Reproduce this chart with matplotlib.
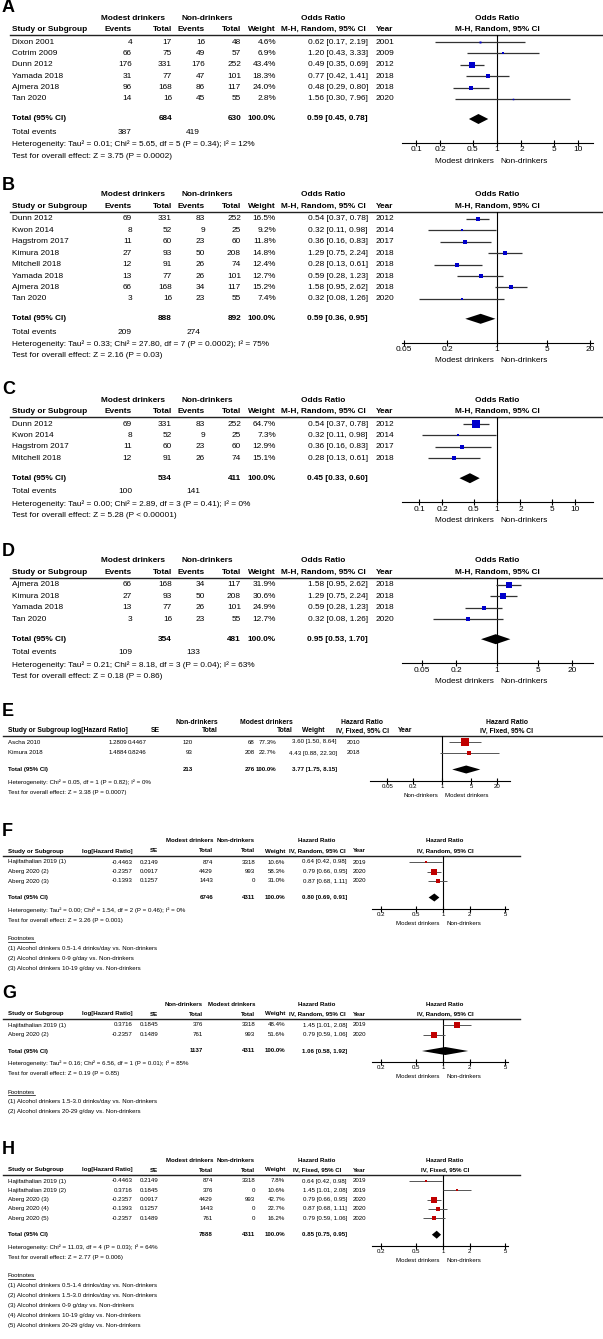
import numpy as np
import matplotlib
matplotlib.use('Agg')
import matplotlib.pyplot as plt
from matplotlib import font_manager
from matplotlib.ticker import NullLocator

# ---------------- data ----------------
# A: all studies, odds ratio
a_study = ['Dixon 2001', 'Cotrim 2009', 'Dunn 2012', 'Yamada 2018', 'Ajmera 2018', 'Tan 2020']
a_ev1 = [4, 66, 176, 31, 96, 14]
a_tot1 = [17, 75, 331, 77, 168, 16]
a_ev2 = [16, 49, 176, 47, 86, 45]
a_tot2 = [48, 57, 252, 101, 117, 55]
a_weight = [4.6, 6.9, 43.4, 18.3, 24.0, 2.8]
a_or = [0.62, 1.20, 0.49, 0.77, 0.48, 1.56]
a_lo = [0.17, 0.43, 0.35, 0.42, 0.29, 0.30]
a_hi = [2.19, 3.33, 0.69, 1.41, 0.80, 7.96]
a_year = [2001, 2009, 2012, 2018, 2018, 2020]
a_sum_tot = [684, 630]
a_sum_ev = [387, 419]
a_pooled = [0.59, 0.45, 0.78]
a_het = 'Heterogeneity: Tau² = 0.01; Chi² = 5.65, df = 5 (P = 0.34); I² = 12%'
a_test = 'Test for overall effect: Z = 3.75 (P = 0.0002)'

# B
b_study = ['Dunn 2012', 'Kwon 2014', 'Hagstrom 2017', 'Kimura 2018', 'Mitchell 2018',
           'Yamada 2018', 'Ajmera 2018', 'Tan 2020']
b_ev1 = [69, 8, 11, 27, 12, 13, 66, 3]
b_tot1 = [331, 52, 60, 93, 91, 77, 168, 16]
b_ev2 = [83, 9, 23, 50, 26, 26, 34, 23]
b_tot2 = [252, 25, 60, 208, 74, 101, 117, 55]
b_weight = [16.5, 9.2, 11.8, 14.8, 12.4, 12.7, 15.2, 7.4]
b_or = [0.54, 0.32, 0.36, 1.29, 0.28, 0.59, 1.58, 0.32]
b_lo = [0.37, 0.11, 0.16, 0.75, 0.13, 0.28, 0.95, 0.08]
b_hi = [0.78, 0.98, 0.83, 2.24, 0.61, 1.23, 2.62, 1.26]
b_year = [2012, 2014, 2017, 2018, 2018, 2018, 2018, 2020]
b_sum_tot = [888, 892]
b_sum_ev = [209, 274]
b_pooled = [0.59, 0.36, 0.95]
b_het = 'Heterogeneity: Tau² = 0.33; Chi² = 27.80, df = 7 (P = 0.0002); I² = 75%'
b_test = 'Test for overall effect: Z = 2.16 (P = 0.03)'

# C
c_study = ['Dunn 2012', 'Kwon 2014', 'Hagstrom 2017', 'Mitchell 2018']
c_ev1 = [69, 8, 11, 12]
c_tot1 = [331, 52, 60, 91]
c_ev2 = [83, 9, 23, 26]
c_tot2 = [252, 25, 60, 74]
c_weight = [64.7, 7.3, 12.9, 15.1]
c_or = [0.54, 0.32, 0.36, 0.28]
c_lo = [0.37, 0.11, 0.16, 0.13]
c_hi = [0.78, 0.98, 0.83, 0.61]
c_year = [2012, 2014, 2017, 2018]
c_sum_tot = [534, 411]
c_sum_ev = [100, 141]
c_pooled = [0.45, 0.33, 0.60]
c_het = 'Heterogeneity: Tau² = 0.00; Chi² = 2.89, df = 3 (P = 0.41); I² = 0%'
c_test = 'Test for overall effect: Z = 5.28 (P < 0.00001)'

# D
d_study = ['Ajmera 2018', 'Kimura 2018', 'Yamada 2018', 'Tan 2020']
d_ev1 = [66, 27, 13, 3]
d_tot1 = [168, 93, 77, 16]
d_ev2 = [34, 50, 26, 23]
d_tot2 = [117, 208, 101, 55]
d_weight = [31.9, 30.6, 24.9, 12.7]
d_or = [1.58, 1.29, 0.59, 0.32]
d_lo = [0.95, 0.75, 0.28, 0.08]
d_hi = [2.62, 2.24, 1.23, 1.26]
d_year = [2018, 2018, 2018, 2020]
d_sum_tot = [354, 481]
d_sum_ev = [109, 133]
d_pooled = [0.95, 0.53, 1.70]
d_het = 'Heterogeneity: Tau² = 0.21; Chi² = 8.18, df = 3 (P = 0.04); I² = 63%'
d_test = 'Test for overall effect: Z = 0.18 (P = 0.86)'

# E: hazard ratio
e_study = ['Ascha 2010', 'Kimura 2018']
e_loghr = [1.2809, 1.4884]
e_se = [0.4467, 0.8246]
e_tot1 = [120, 93]
e_tot2 = [68, 208]
e_weight = [77.3, 22.7]
e_hr = [3.60, 4.43]
e_lo = [1.50, 0.88]
e_hi = [8.64, 22.30]
e_year = [2010, 2018]
e_sum_tot = [213, 276]
e_pooled = [3.77, 1.75, 8.15]
e_het = 'Heterogeneity: Chi² = 0.05, df = 1 (P = 0.82); I² = 0%'
e_test = 'Test for overall effect: Z = 3.38 (P = 0.0007)'

# F
f_study = ['Hajifathalian 2019 (1)', 'Aberg 2020 (2)', 'Aberg 2020 (3)']
f_loghr = [-0.4463, -0.2357, -0.1393]
f_se = [0.2149, 0.0917, 0.1257]
f_tot1 = [874, 4429, 1443]
f_tot2 = [3318, 993, 0]
f_weight = [10.6, 58.3, 31.0]
f_hr = [0.64, 0.79, 0.87]
f_lo = [0.42, 0.66, 0.68]
f_hi = [0.98, 0.95, 1.11]
f_year = [2019, 2020, 2020]
f_sum_tot = [6746, 4311]
f_pooled = [0.80, 0.69, 0.91]
f_het = 'Heterogeneity: Tau² = 0.00; Chi² = 1.54, df = 2 (P = 0.46); I² = 0%'
f_test = 'Test for overall effect: Z = 3.26 (P = 0.001)'
f_notes = ['(1) Alcohol drinkers 0.5-1.4 drinks/day vs. Non-drinkers',
           '(2) Alcohol drinkers 0-9 g/day vs. Non-drinkers',
           '(3) Alcohol drinkers 10-19 g/day vs. Non-drinkers']

# G
g_study = ['Hajifathalian 2019 (1)', 'Aberg 2020 (2)']
g_loghr = [0.3716, -0.2357]
g_se = [0.1845, 0.1489]
g_tot1 = [376, 761]
g_tot2 = [3318, 993]
g_weight = [48.4, 51.6]
g_hr = [1.45, 0.79]
g_lo = [1.01, 0.59]
g_hi = [2.08, 1.06]
g_year = [2019, 2020]
g_sum_tot = [1137, 4311]
g_pooled = [1.06, 0.58, 1.92]
g_het = 'Heterogeneity: Tau² = 0.16; Chi² = 6.56, df = 1 (P = 0.01); I² = 85%'
g_test = 'Test for overall effect: Z = 0.19 (P = 0.85)'
g_notes = ['(1) Alcohol drinkers 1.5-3.0 drinks/day vs. Non-drinkers',
           '(2) Alcohol drinkers 20-29 g/day vs. Non-drinkers']

# H
h_study = ['Hajifathalian 2019 (1)', 'Hajifathalian 2019 (2)', 'Aberg 2020 (3)',
           'Aberg 2020 (4)', 'Aberg 2020 (5)']
h_loghr = [-0.4463, 0.3716, -0.2357, -0.1393, -0.2357]
h_se = [0.2149, 0.1845, 0.0917, 0.1257, 0.1489]
h_tot1 = [874, 376, 4429, 1443, 761]
h_tot2 = [3318, 0, 993, 0, 0]
h_weight = [7.8, 10.6, 42.7, 22.7, 16.2]
h_hr = [0.64, 1.45, 0.79, 0.87, 0.79]
h_lo = [0.42, 1.01, 0.66, 0.68, 0.59]
h_hi = [0.98, 2.08, 0.95, 1.11, 1.06]
h_year = [2019, 2019, 2020, 2020, 2020]
h_sum_tot = [7888, 4311]
h_pooled = [0.85, 0.75, 0.95]
h_het = 'Heterogeneity: Chi² = 11.03, df = 4 (P = 0.03); I² = 64%'
h_test = 'Test for overall effect: Z = 2.77 (P = 0.006)'
h_notes = ['(1) Alcohol drinkers 0.5-1.4 drinks/day vs. Non-drinkers',
           '(2) Alcohol drinkers 1.5-3.0 drinks/day vs. Non-drinkers',
           '(3) Alcohol drinkers 0-9 g/day vs. Non-drinkers',
           '(4) Alcohol drinkers 10-19 g/day vs. Non-drinkers',
           '(5) Alcohol drinkers 20-29 g/day vs. Non-drinkers']

# ---------------- style ----------------
names = set(f.name for f in font_manager.fontManager.ttflist)
if 'Liberation Sans Narrow' in names:
    FAM, SC = 'Liberation Sans Narrow', 1.0
else:
    FAM, SC = 'Liberation Sans', 0.84
plt.rcParams['font.family'] = [FAM, 'DejaVu Sans']
FS1 = 7.1 * SC    # panels A-D
FS2 = 5.3 * SC    # panels E-H
BLUE = '#0000CC'
RED = '#C00000'

W, H = 603, 1339
fig = plt.figure(figsize=(W / 100, H / 100), dpi=100)
bg = fig.add_axes([0, 0, 1, 1])
bg.set_xlim(0, W)
bg.set_ylim(H, 0)
bg.axis('off')


def txt(x, y, s, ha='left', bold=False, fs=FS1, **kw):
    return bg.text(x, y, s, ha=ha, va='center', fontsize=fs,
                   fontweight='bold' if bold else 'normal', **kw)


def ci(e, l, h):
    return '%.2f [%.2f, %.2f]' % (e, l, h)


def forest(x0, x1, ytop, yaxis, center, ppd, ticks, ys, est, lo, hi, w, color, k,
           pooled, ytot, dh, labs, fs, lab_dy, lw_ci, ci_col):
    ax = fig.add_axes([x0 / W, 1 - yaxis / H, (x1 - x0) / W, (yaxis - ytop) / H])
    ax.set_xscale('log')
    ax.set_xlim(10 ** ((x0 - center) / ppd), 10 ** ((x1 - center) / ppd))
    ax.set_ylim(yaxis, ytop)
    ax.patch.set_visible(False)
    for s in ['top', 'left', 'right']:
        ax.spines[s].set_visible(False)
    ax.spines['bottom'].set_linewidth(0.8)
    ax.set_xticks(ticks)
    ax.set_xticklabels(['%g' % t for t in ticks])
    ax.xaxis.set_minor_locator(NullLocator())
    ax.tick_params(axis='x', direction='inout', length=4, width=0.8, pad=0.5, labelsize=fs)
    ax.set_yticks([])
    ax.axvline(1, color='k', lw=0.8)
    ax.hlines(ys, lo, hi, color=ci_col, lw=lw_ci)
    for yi, e, wi in zip(ys, est, w):
        ax.plot(e, yi, 's', ms=k * np.sqrt(wi) * 0.72, color=color, mew=0, clip_on=False)
    e, l, h = pooled
    ax.fill([l, e, h, e], [ytot, ytot - dh, ytot, ytot + dh], color='k', lw=0)
    ax.annotate(labs[0], xy=(1, 0), xycoords=('data', 'axes fraction'),
                xytext=(-2.5, -lab_dy), textcoords='offset points',
                ha='right', va='center', fontsize=fs)
    ax.annotate(labs[1], xy=(1, 0), xycoords=('data', 'axes fraction'),
                xytext=(2.5, -lab_dy), textcoords='offset points',
                ha='left', va='center', fontsize=fs)
    return ax


def or_panel(lab, h1, study, ev1, tot1, ev2, tot2, weight, est, lo, hi, year,
             sum_tot, sum_ev, pooled, het, test, ticks, ppd):
    fs = FS1
    txt(2, h1 - 10, lab, bold=True, fs=13, family='Liberation Sans')
    for x, s in [(133, 'Modest drinkers'), (207, 'Non-drinkers'),
                 (323, 'Odds Ratio'), (497, 'Odds Ratio')]:
        txt(x, h1, s, 'center', True, fs)
    h2 = h1 + 11.5
    txt(12, h2, 'Study or Subgroup', 'left', True, fs)
    for x, s in [(132, 'Events'), (172, 'Total'), (205, 'Events'), (241, 'Total'), (276, 'Weight')]:
        txt(x, h2, s, 'right', True, fs)
    txt(323, h2, 'M-H, Random, 95% CI', 'center', True, fs)
    txt(376, h2, 'Year', 'left', True, fs)
    txt(497, h2, 'M-H, Random, 95% CI', 'center', True, fs)
    yl = h2 + 5.5
    bg.plot([10, 603], [yl, yl], color='#222222', lw=1)
    ys = yl + 7 + 11.4 * np.arange(len(study))
    for i, y in enumerate(ys):
        txt(12, y, study[i], fs=fs)
        txt(132, y, str(ev1[i]), 'right', fs=fs)
        txt(172, y, str(tot1[i]), 'right', fs=fs)
        txt(205, y, str(ev2[i]), 'right', fs=fs)
        txt(241, y, str(tot2[i]), 'right', fs=fs)
        txt(276, y, '%.1f%%' % weight[i], 'right', fs=fs)
        txt(368, y, ci(est[i], lo[i], hi[i]), 'right', fs=fs)
        txt(376, y, str(year[i]), 'left', fs=fs)
    yt = ys[-1] + 20
    txt(12, yt, 'Total (95% CI)', 'left', True, fs)
    txt(172, yt, str(sum_tot[0]), 'right', True, fs)
    txt(241, yt, str(sum_tot[1]), 'right', True, fs)
    txt(276, yt, '100.0%', 'right', True, fs)
    txt(368, yt, ci(*pooled), 'right', True, fs)
    txt(12, yt + 13.5, 'Total events', fs=fs)
    txt(132, yt + 13.5, str(sum_ev[0]), 'right', fs=fs)
    txt(200, yt + 13.5, str(sum_ev[1]), 'right', fs=fs)
    txt(12, yt + 25.5, het, fs=fs)
    txt(12, yt + 37, test, fs=fs)
    forest(402, 593, yl, yt + 24, 497, ppd, ticks, ys, est, lo, hi, weight, BLUE, 0.91,
           pooled, yt, 5, ['Modest drinkers', 'Non-drinkers'], fs, 13, 0.9, '#333333')


def hr_panel(lab, h1, study, loghr, se, tot1, tot2, weight, est, lo, hi, year,
             sum_tot, pooled, het, test, notes, hdr1, hdr2, hfs, line_x, cols,
             center, ppd, x0, x1, labs, step, h2gap):
    fs = FS2
    txt(2, h1 - 10, lab, bold=True, fs=13, family='Liberation Sans')
    for x, s, ha in hdr1:
        txt(x, h1, s, ha, True, hfs)
    h2 = h1 + h2gap
    for x, s, ha in hdr2:
        txt(x, h2, s, ha, True, hfs)
    yl = h2 + 5
    bg.plot(line_x, [yl, yl], color='#222222', lw=1)
    ys = yl + 6 + step * np.arange(len(study))
    for i, y in enumerate(ys):
        txt(8, y, study[i], fs=fs)
        txt(cols[0], y, '%.4f' % loghr[i], 'right', fs=fs)
        txt(cols[1], y, '%.4f' % se[i], 'right', fs=fs)
        txt(cols[2], y, str(tot1[i]), 'right', fs=fs)
        txt(cols[3], y, str(tot2[i]), 'right', fs=fs)
        txt(cols[4], y, '%.1f%%' % weight[i], 'right', fs=fs)
        txt(cols[5], y, ci(est[i], lo[i], hi[i]), 'right', fs=fs)
        txt(cols[6], y, str(year[i]), 'left', fs=fs)
    yt = ys[-1] + 16.5
    txt(8, yt, 'Total (95% CI)', 'left', True, fs)
    txt(cols[2], yt, str(sum_tot[0]), 'right', True, fs)
    txt(cols[3], yt, str(sum_tot[1]), 'right', True, fs)
    txt(cols[4], yt, '100.0%', 'right', True, fs)
    txt(cols[5], yt, ci(*pooled), 'right', True, fs)
    txt(8, yt + 12.5, het, fs=fs)
    txt(8, yt + 23, test, fs=fs)
    forest(x0, x1, yl, yt + 11, center, ppd, [0.2, 0.5, 1, 2, 5] if ppd > 60 else [0.05, 0.2, 1, 5, 20],
           ys, est, lo, hi, weight, RED, 0.85, pooled, yt, 4, labs, fs, 10.5, 0.7, '#555555')
    if notes:
        yf = yt + 41
        t = txt(8, yf, 'Footnotes', fs=fs)
        fig.canvas.draw()
        bb = t.get_window_extent().transformed(bg.transData.inverted())
        bg.plot([bb.x0, bb.x1], [yf + 3, yf + 3], color='k', lw=0.5)
        for j, s in enumerate(notes):
            txt(8, yf + 10 + 10 * j, s, fs=fs)


# ---------------- panels A-D ----------------
or_panel('A', 18, a_study, a_ev1, a_tot1, a_ev2, a_tot2, a_weight, a_or, a_lo, a_hi, a_year,
         a_sum_tot, a_sum_ev, a_pooled, a_het, a_test, [0.1, 0.2, 0.5, 1, 2, 5, 10], 81)
or_panel('B', 195, b_study, b_ev1, b_tot1, b_ev2, b_tot2, b_weight, b_or, b_lo, b_hi, b_year,
         b_sum_tot, b_sum_ev, b_pooled, b_het, b_test, [0.05, 0.2, 1, 5, 20], 71.5)
or_panel('C', 400, c_study, c_ev1, c_tot1, c_ev2, c_tot2, c_weight, c_or, c_lo, c_hi, c_year,
         c_sum_tot, c_sum_ev, c_pooled, c_het, c_test, [0.1, 0.2, 0.5, 1, 2, 5, 10], 78)
or_panel('D', 561, d_study, d_ev1, d_tot1, d_ev2, d_tot2, d_weight, d_or, d_lo, d_hi, d_year,
         d_sum_tot, d_sum_ev, d_pooled, d_het, d_test, [0.05, 0.2, 1, 5, 20], 58)

# ---------------- panels E-H ----------------
fgh_cols = [133, 158, 213, 255, 285, 347, 353]
g_cols = [133, 158, 203, 255, 285, 347, 353]


def hdr_fgh(g1, g2, method, t1x=213):
    h1 = [(t1x, g1, 'right'), (255, g2, 'right'), (317, 'Hazard Ratio', 'center'),
          (445, 'Hazard Ratio', 'center')]
    h2 = [(8, 'Study or Subgroup', 'left'), (133, 'log[Hazard Ratio]', 'right'),
          (158, 'SE', 'right'), (t1x, 'Total', 'right'), (255, 'Total', 'right'),
          (285, 'Weight', 'right'), (317, method, 'center'), (353, 'Year', 'left'),
          (445, method, 'center')]
    return h1, h2


e_h1 = [(218, 'Non-drinkers', 'right'), (293, 'Modest drinkers', 'right'),
        (362, 'Hazard Ratio', 'center'), (507, 'Hazard Ratio', 'center')]
e_h2 = [(8, 'Study or Subgroup', 'left'), (128, 'log[Hazard Ratio]', 'right'),
        (160, 'SE', 'right'), (218, 'Total', 'right'), (293, 'Total', 'right'),
        (325, 'Weight', 'right'), (362, 'IV, Fixed, 95% CI', 'center'),
        (398, 'Year', 'left'), (507, 'IV, Fixed, 95% CI', 'center')]
hr_panel('E', 722, e_study, e_loghr, e_se, e_tot1, e_tot2, e_weight, e_hr, e_lo, e_hi, e_year,
         e_sum_tot, e_pooled, e_het, e_test, None, e_h1, e_h2, 5.8 * SC, [3, 603],
         [127, 147, 193, 255, 276, 337, 347], 442, 42, 370, 510,
         ['Non-drinkers', 'Modest drinkers'], 11, 9)

h1, h2 = hdr_fgh('Modest drinkers', 'Non-drinkers', 'IV, Random, 95% CI')
hr_panel('F', 841, f_study, f_loghr, f_se, f_tot1, f_tot2, f_weight, f_hr, f_lo, f_hi, f_year,
         f_sum_tot, f_pooled, f_het, f_test, f_notes, h1, h2, FS2, [3, 520], fgh_cols,
         443, 89, 372, 508, ['Modest drinkers', 'Non-drinkers'], 9.5, 10)

h1, h2 = hdr_fgh('Non-drinkers', 'Modest drinkers', 'IV, Random, 95% CI', 203)
hr_panel('G', 1004, g_study, g_loghr, g_se, g_tot1, g_tot2, g_weight, g_hr, g_lo, g_hi, g_year,
         g_sum_tot, g_pooled, g_het, g_test, g_notes, h1, h2, FS2, [3, 520], g_cols,
         443, 89, 372, 508, ['Modest drinkers', 'Non-drinkers'], 9.5, 10)

h1, h2 = hdr_fgh('Modest drinkers', 'Non-drinkers', 'IV, Fixed, 95% CI')
hr_panel('H', 1160, h_study, h_loghr, h_se, h_tot1, h_tot2, h_weight, h_hr, h_lo, h_hi, h_year,
         h_sum_tot, h_pooled, h_het, h_test, h_notes, h1, h2, FS2, [3, 520], fgh_cols,
         443, 89, 372, 508, ['Modest drinkers', 'Non-drinkers'], 9.3, 10)

fig.savefig('out.png', dpi=100)
